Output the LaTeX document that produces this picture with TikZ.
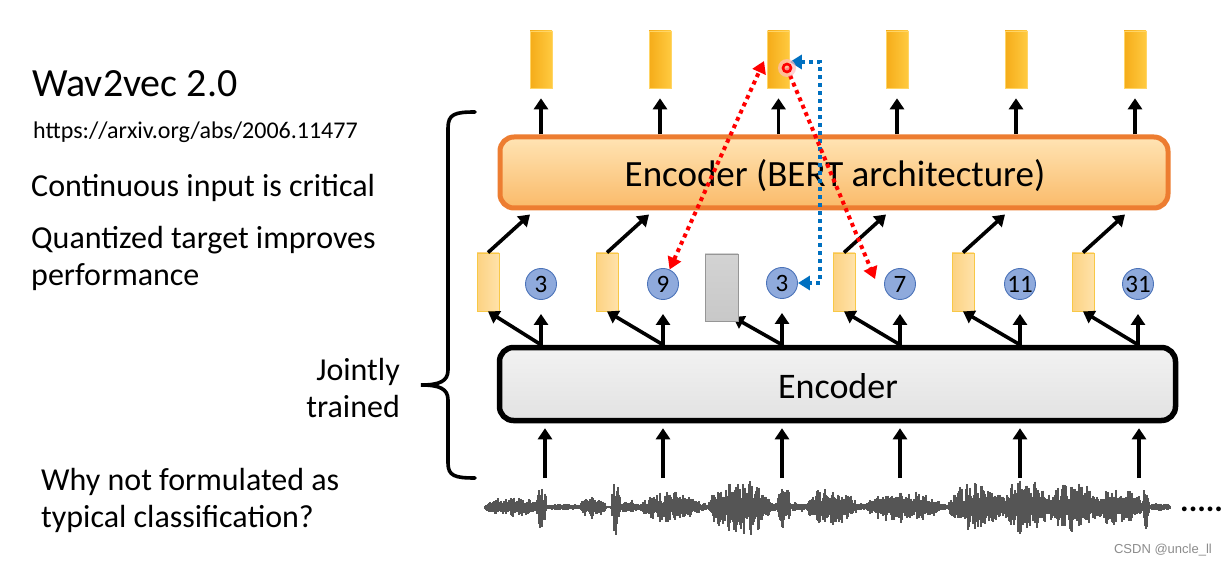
\documentclass[tikz,border=0pt]{standalone}
\usepackage{fontspec}
\setmainfont{Carlito}
\newfontfamily\wmfont{Liberation Sans}
\usetikzlibrary{arrows.meta,calc}
\definecolor{barA}{RGB}{245,172,25}
\definecolor{barB}{RGB}{255,202,64}
\definecolor{midA}{RGB}{252,210,130}
\definecolor{midB}{RGB}{255,226,170}
\definecolor{midE}{RGB}{248,200,70}
\definecolor{circF}{RGB}{143,170,220}
\definecolor{circE}{RGB}{75,115,185}
\definecolor{grayF}{RGB}{200,200,200}
\definecolor{grayE}{RGB}{150,150,150}
\definecolor{bertE}{RGB}{237,125,49}
\definecolor{bertT}{RGB}{255,228,180}
\definecolor{bertB}{RGB}{250,186,105}
\definecolor{encT}{RGB}{242,242,242}
\definecolor{encB}{RGB}{226,226,226}
\definecolor{redD}{RGB}{255,0,0}
\definecolor{blueD}{RGB}{0,112,192}
\definecolor{waveC}{RGB}{85,85,85}
\tikzset{dtip/.tip={Triangle[width=14pt,length=12pt]}}
\begin{document}
\begin{tikzpicture}[x=1pt,y=-1pt,
  topbar/.style={rectangle,inner sep=0pt,minimum width=22pt,minimum height=57pt,left color=barA,right color=barB,draw=barB!80!white,line width=0.6pt},
  midbar/.style={rectangle,inner sep=0pt,minimum width=22pt,minimum height=58pt,left color=midA,right color=midB,draw=midE,line width=0.9pt},
  qcirc/.style={circle,inner sep=0pt,minimum size=31pt,fill=circF,draw=circE,line width=0.9pt,font=\fontsize{25}{27}\selectfont},
  grayblk/.style={rectangle,inner sep=0pt,minimum width=33pt,minimum height=67pt,top color=grayF!80!white,bottom color=grayF,draw=grayE,line width=0.9pt},
  arr/.style={line width=3.6pt,-{Triangle[width=14pt,length=11pt]}},
  reddot/.style={draw=redD,line width=4pt,dash pattern=on 4pt off 4pt},
  bluedot/.style={draw=blueD,line width=4pt,dash pattern=on 4pt off 4pt},
  lbl/.style={anchor=base west,inner sep=0pt},
  wave/.style={draw=waveC,line width=1.3pt}
]
\useasboundingbox (0,0) rectangle (1227,564);
\fill[white] (0,0) rectangle (1227,564);

% left texts
\node[lbl,font=\fontsize{40}{48}\selectfont] (title) at (32,97) {Wav2vec 2.0};
\node[lbl,font=\fontsize{24}{28}\selectfont] (url) at (33,139) {https://arxiv.org/abs/2006.11477};
\node[lbl,font=\fontsize{32}{38}\selectfont] (t1) at (31,197) {Continuous input is critical};
\node[lbl,font=\fontsize{32}{38}\selectfont] (t2) at (31,249) {Quantized target improves};
\node[lbl,font=\fontsize{32}{38}\selectfont] (t3) at (31,286) {performance};
\node[anchor=base east,inner sep=0pt,font=\fontsize{32}{38}\selectfont] (j1) at (400,380) {Jointly};
\node[anchor=base east,inner sep=0pt,font=\fontsize{32}{38}\selectfont] (j2) at (400,417) {trained};
\node[lbl,font=\fontsize{32}{38}\selectfont] (w1) at (41,490) {Why not formulated as};
\node[lbl,font=\fontsize{32}{38}\selectfont] (w2) at (41,527) {typical classification?};

% brace
\draw[line width=3.6pt,line cap=round] (475,112) .. controls (455,112) and (448,114) .. (448,128) -- (448,370) .. controls (448,381) and (440,385) .. (421,385) .. controls (440,385) and (448,389) .. (448,400) -- (448,463) .. controls (448,476) and (455,478) .. (475,478);

% encoders
\node[rectangle,rounded corners=14pt,minimum width=668pt,minimum height=71pt,inner sep=0pt,draw=bertE,line width=5pt,top color=bertT,bottom color=bertB] (bert) at (834,172.5) {};
\node[anchor=base,inner sep=0pt,font=\fontsize{37}{44}\selectfont] (bertlbl) at (835,187) {Encoder (BERT architecture)};
\node[rectangle,rounded corners=14pt,minimum width=676pt,minimum height=73pt,inner sep=0pt,draw=black,line width=5.5pt,top color=encT,bottom color=encB] (enc) at (837.5,384) {};
\node[anchor=base,inner sep=0pt,font=\fontsize{36}{43}\selectfont] (enclbl) at (838,398) {Encoder};

% top outputs
\foreach \i/\x in {1/541,2/660,3/778.5,4/897,5/1016,6/1135}{
  \node[topbar] (top\i) at (\x,59.5) {};
  \draw[arr] (top\i |- bert.north) -- ([yshift=-10pt]top\i.south);
}

% middle row
\foreach \i/\rx/\cx/\n in {1/488/541/3,2/607/663/9,4/844/900/7,5/963/1020/11,6/1083/1138/31}{
  \node[midbar] (r\i) at (\rx,282) {};
  \node[qcirc] (c\i) at (\cx,284) {\n};
  \draw[arr] (c\i |- enc.north) -- ([yshift=-14pt]c\i.south);
  \draw[arr] (c\i |- enc.north) -- (r\i.south);
  \draw[arr] (r\i.north) -- ($(r\i.north |- bert.south)+(42,4)$);
}
\node[qcirc] (c3) at (782,283) {3};
\draw[arr] (c3 |- enc.north) -- ([yshift=-14pt]c3.south);
\draw[arr] (c3 |- enc.north) -- (733,317);
\node[grayblk] (g) at (721.5,287.5) {};

% blue dotted
\coordinate (bturn) at (820,62);
\draw[bluedot,{dtip}-{dtip}] (bturn -| top3.east) -- (bturn) -- (bturn |- c3) -- (c3.east);

% red dotted
\coordinate (laser) at (787,68);
\coordinate (redtop) at (764,61);
\draw[reddot,{dtip}-{dtip}] (c2) -- (redtop);
\draw[reddot,-{dtip}] (laser) -- ([xshift=-9pt,yshift=5pt]c4.west);
\fill[redD!25,opacity=0.7] (laser) circle (9);
\draw[redD,line width=2.6pt] (laser) circle (4);

% bottom arrows
\foreach \x in {545,663,782,900,1020,1139}{
  \coordinate (b\x) at (\x,478);
  \draw[arr] (b\x) -- ([yshift=-5pt]b\x |- enc.south);
}

% waveform
\draw[wave,line width=2pt] (485,507) -- (1170,507);
\pgfmathsetseed{11}
\foreach \a/\b/\A in {485/540/10, 536/547/22, 546/581/2, 580/606/11, 611/621/30, 620/640/6, 640/701/15, 700/708/3, 708/771/29, 770/778/4, 777/791/25, 790/806/4, 806/857/19, 856/866/3, 866/941/16, 940/948/2, 948/1005/25, 1000/1050/27, 1045/1100/25, 1095/1143/19, 1142/1150/22, 1150/1170/3}{
  \pgfmathsetmacro\wvs{\a+1.0}
  \foreach \x in {\a,\wvs,...,\b}{
    \pgfmathsetmacro\wve{\A*sqrt(abs(sin(180*(\x-\a)/(\b-\a))))*(0.55+0.45*abs(sin(23*(\x-\a))))}
    \pgfmathsetmacro\wvu{1.5+\wve*(0.25+0.75*rnd)}
    \pgfmathsetmacro\wvd{1.5+\wve*(0.25+0.75*rnd)}
    \draw[wave] (\x,507-\wvu) -- (\x,507+\wvd);
  }
}
\node[anchor=base west,inner sep=0pt,font=\fontsize{32}{38}\selectfont\bfseries] (dots) at (1180,511) {.....};
\node[anchor=base east,inner sep=0pt,text=black!45,font=\wmfont\fontsize{13}{15}\selectfont] (wm) at (1212,553) {CSDN @uncle\_ll};
\end{tikzpicture}
\end{document}
